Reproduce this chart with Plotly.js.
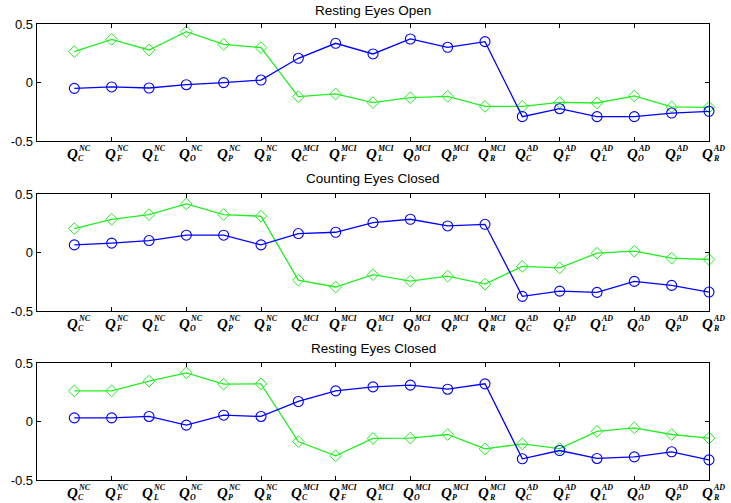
<!DOCTYPE html>
<html><head><meta charset="utf-8">
<script src="https://cdn.plot.ly/plotly-3.0.1.min.js"></script>
<style>html,body{margin:0;padding:0;background:#fff}#chart{width:731px;height:503px}</style>
</head><body><div id="chart"></div>
<script>
// Category sub/superscripts for Q labels
const subs = ["C","F","L","O","P","R","C","F","L","O","P","R","C","F","L","O","P","R"];
const sups = ["NC","NC","NC","NC","NC","NC","MCI","MCI","MCI","MCI","MCI","MCI","AD","AD","AD","AD","AD","AD"];
const xpos = [1,2,3,4,5,6,7,8,9,10,11,12,13,14,15,16,17,18];
const panelTitles = ["Resting Eyes Open","Counting Eyes Closed","Resting Eyes Closed"];

const restOpenGreen = [0.264,0.369,0.278,0.434,0.326,0.298,-0.121,-0.098,-0.172,-0.130,-0.118,-0.204,-0.204,-0.170,-0.175,-0.115,-0.209,-0.212];
const restOpenBlue  = [-0.050,-0.038,-0.047,-0.019,-0.001,0.021,0.207,0.335,0.244,0.372,0.301,0.349,-0.292,-0.224,-0.292,-0.292,-0.261,-0.246];
const countClosedGreen = [0.205,0.284,0.324,0.415,0.324,0.310,-0.236,-0.295,-0.190,-0.244,-0.202,-0.270,-0.119,-0.131,-0.006,0.011,-0.048,-0.060];
const countClosedBlue  = [0.065,0.080,0.102,0.148,0.148,0.065,0.162,0.173,0.256,0.284,0.227,0.241,-0.375,-0.330,-0.341,-0.247,-0.281,-0.338];
const restClosedGreen = [0.262,0.262,0.345,0.416,0.319,0.322,-0.171,-0.293,-0.145,-0.142,-0.111,-0.234,-0.191,-0.231,-0.085,-0.054,-0.111,-0.142];
const restClosedBlue  = [0.031,0.031,0.043,-0.031,0.054,0.043,0.171,0.262,0.296,0.311,0.276,0.322,-0.319,-0.248,-0.316,-0.302,-0.259,-0.328];

const greens = [restOpenGreen, countClosedGreen, restClosedGreen];
const blues = [restOpenBlue, countClosedBlue, restClosedBlue];

const W = 731, H = 503;
const panelPx = [[24,141],[194,311],[363,480]];
const titleY = [10,178,348];

const traces = [];
const layout = {
  width: W, height: H,
  margin: {l:37, r:22, t:0, b:0},
  paper_bgcolor: '#fff', plot_bgcolor: '#fff',
  showlegend: false,
  annotations: []
};
const qFont = {family: 'Liberation Serif, DejaVu Serif, serif', size: 15, color: '#000'};
const sFont = {family: 'Liberation Serif, DejaVu Serif, serif', size: 8, color: '#000'};

for (let p = 0; p < 3; p++) {
  const xa = p === 0 ? 'x' : 'x' + (p+1);
  const ya = p === 0 ? 'y' : 'y' + (p+1);
  const xk = p === 0 ? 'xaxis' : 'xaxis' + (p+1);
  const yk = p === 0 ? 'yaxis' : 'yaxis' + (p+1);
  traces.push({
    x: xpos, y: greens[p], xaxis: xa, yaxis: ya, type: 'scatter', mode: 'lines+markers',
    line: {color: '#22ee22', width: 1.3},
    marker: {symbol: 'diamond-open', size: 9, color: '#22ee22', line: {width: 1, color: '#22ee22'}},
    cliponaxis: false
  });
  traces.push({
    x: xpos, y: blues[p], xaxis: xa, yaxis: ya, type: 'scatter', mode: 'lines+markers',
    line: {color: '#0000ff', width: 1.3},
    marker: {symbol: 'circle-open', size: 10, color: '#0000ff', line: {width: 1.1, color: '#0000ff'}},
    cliponaxis: false
  });
  const [top, bot] = panelPx[p];
  layout[xk] = {
    domain: [0,1], anchor: ya, range: [0,18],
    tickvals: [0,2,4,6,8,10,12,14,16,18], showticklabels: false,
    ticks: 'inside', ticklen: 4, tickwidth: 1, tickcolor: '#000',
    showline: true, linecolor: '#000', linewidth: 1.3, mirror: 'ticks',
    showgrid: false, zeroline: false, fixedrange: true
  };
  layout[yk] = {
    domain: [1 - bot/H, 1 - top/H], anchor: xa, range: [-0.5,0.5],
    tickvals: [-0.5,0,0.5], ticktext: ['-0.5','0','0.5'],
    ticks: 'inside', ticklen: 4, tickwidth: 1, tickcolor: '#000',
    tickfont: {family: 'Liberation Sans, Arial, sans-serif', size: 13, color: '#000'},
    showline: true, linecolor: '#000', linewidth: 1.3, mirror: 'ticks',
    showgrid: false, zeroline: false, fixedrange: true
  };
  layout.annotations.push({
    text: panelTitles[p], xref: 'paper', yref: 'paper', x: 0.5, y: 1 - titleY[p]/H,
    xanchor: 'center', yanchor: 'middle', showarrow: false,
    font: {family: 'Liberation Sans, Arial, sans-serif', size: 13.5, color: '#000'}
  });
  for (let i = 0; i < xpos.length; i++) {
    layout.annotations.push({
      text: '<b><i>Q</i></b>', xref: xa, yref: ya + ' domain', x: xpos[i], y: 0,
      xanchor: 'right', yanchor: 'top', xshift: 5, yshift: -4, borderpad: 0,
      showarrow: false, font: qFont
    });
    layout.annotations.push({
      text: '<b><i>' + sups[i] + '</i></b>',
      xref: xa, yref: ya + ' domain', x: xpos[i], y: 0,
      xanchor: 'left', yanchor: 'top', xshift: 3, yshift: -2, borderpad: 0,
      showarrow: false, font: sFont
    });
    layout.annotations.push({
      text: '<b><i>' + subs[i] + '</i></b>',
      xref: xa, yref: ya + ' domain', x: xpos[i], y: 0,
      xanchor: 'left', yanchor: 'top', xshift: 3, yshift: -12, borderpad: 0,
      showarrow: false, font: sFont
    });
  }
}
Plotly.newPlot('chart', traces, layout, {staticPlot: true, displayModeBar: false});
</script></body></html>
